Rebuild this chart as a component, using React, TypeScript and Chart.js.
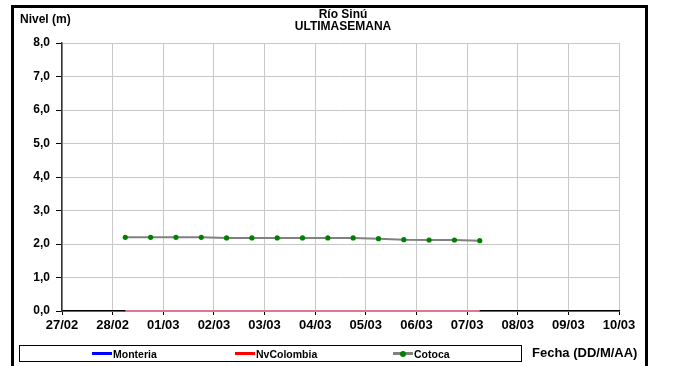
import React, { useEffect, useRef } from "react";
import { Chart, registerables } from "chart.js";

Chart.register(...registerables);

const tickLabels = ["27/02", "28/02", "01/03", "02/03", "03/03", "04/03", "05/03", "06/03", "07/03", "08/03", "09/03", "10/03"];

const pointTimes = [
  "28/02 06:00", "28/02 18:00", "01/03 06:00", "01/03 18:00", "02/03 06:00",
  "02/03 18:00", "03/03 06:00", "03/03 18:00", "04/03 06:00", "04/03 18:00",
  "05/03 06:00", "05/03 18:00", "06/03 06:00", "06/03 18:00", "07/03 06:00",
];

const monteria = [0, 0, 0, 0, 0, 0, 0, 0, 0, 0, 0, 0, 0, 0, 0];
const nvColombia = [0, 0, 0, 0, 0, 0, 0, 0, 0, 0, 0, 0, 0, 0, 0];
const cotoca = [2.2, 2.2, 2.2, 2.2, 2.18, 2.18, 2.18, 2.18, 2.18, 2.18, 2.16, 2.13, 2.12, 2.12, 2.1];

const seriesNames = ["Monteria", "NvColombia", "Cotoca"];

function toDay(s: string): number {
  const [d, t] = s.split(" ");
  const idx = tickLabels.indexOf(d);
  const [h, m] = t.split(":").map(Number);
  return idx + (h + m / 60) / 24;
}

function pts(vals: number[]) {
  return vals.map((v, i) => ({ x: toDay(pointTimes[i]), y: v }));
}

const FONT = "'Liberation Sans', Arial, sans-serif";

export default function App() {
  const ref = useRef<HTMLCanvasElement>(null);
  useEffect(() => {
    const chart = new Chart(ref.current!, {
      type: "line",
      data: {
        datasets: [
          {
            label: seriesNames[0],
            data: pts(monteria),
            borderColor: "#0000ff",
            borderWidth: 2,
            pointRadius: 0,
            order: 2,
            clip: false as any,
          },
          {
            label: seriesNames[1],
            data: pts(nvColombia),
            borderColor: "rgb(220,120,145)",
            borderWidth: 2,
            pointRadius: 0,
            order: 1,
            clip: false as any,
          },
          {
            label: seriesNames[2],
            data: pts(cotoca),
            borderColor: "#808080",
            borderWidth: 2,
            pointRadius: 2.6,
            pointBackgroundColor: "#008000",
            pointBorderColor: "#008000",
            pointBorderWidth: 0,
            order: 0,
          },
        ],
      },
      options: {
        animation: false,
        responsive: false,
        maintainAspectRatio: false,
        layout: { padding: { left: 0, right: 58, top: 43, bottom: 25 } },
        plugins: { legend: { display: false }, tooltip: { enabled: false }, title: { display: false } },
        scales: {
          x: {
            type: "linear",
            min: 0,
            max: tickLabels.length - 1,
            afterFit: (s: any) => { s.height = 30; },
            ticks: {
              stepSize: 1,
              autoSkip: false,
              maxRotation: 0,
              padding: 3,
              color: "#000",
              font: { family: FONT, size: 13, weight: "bold" },
              callback: (v: any) => tickLabels[Math.round(Number(v))] ?? "",
            },
            grid: { color: "#c8c8c8", lineWidth: 1, tickLength: 4, tickColor: "#000" },
            border: { color: "#000", width: 1.5 },
          },
          y: {
            min: 0,
            max: 8,
            afterFit: (s: any) => { s.width = 62; },
            ticks: {
              stepSize: 0.5,
              padding: 6,
              color: "#000",
              font: { family: FONT, size: 12, weight: "bold" },
              callback: (v: any) => (Number(v) % 1 === 0 ? Number(v).toFixed(1).replace(".", ",") : ""),
            },
            grid: {
              color: (c: any) => (c.tick && c.tick.value % 1 === 0 ? "#c8c8c8" : "#dcdcdc"),
              lineWidth: 1,
              tickLength: 6,
              tickColor: (c: any) => (c.tick && c.tick.value % 1 === 0 ? "#000" : "rgba(0,0,0,0)"),
            },
            border: { color: "#333", width: 1.5 },
          },
        },
      },
    });
    return () => chart.destroy();
  }, []);

  const txt: React.CSSProperties = { position: "absolute", fontFamily: FONT, fontWeight: "bold", color: "#000", whiteSpace: "nowrap" };
  const legendItem = (left: number, color: string, label: string, marker: boolean) => (
    <div style={{ position: "absolute", left, top: 0, height: 15, display: "flex", alignItems: "center" }}>
      <div style={{ position: "relative", width: 20, height: 3, background: color }}>
        {marker && (
          <div style={{ position: "absolute", left: 7, top: -1.5, width: 6, height: 6, borderRadius: 3, background: "#008000" }} />
        )}
      </div>
      <span style={{ fontFamily: FONT, fontWeight: "bold", fontSize: 10.5, marginLeft: 1 }}>{label}</span>
    </div>
  );

  return (
    <div style={{ position: "fixed", left: 0, top: 0, width: 677, height: 366, overflow: "hidden", background: "#fff" }}>
      <div style={{ position: "absolute", left: 11, top: 5, width: 637, height: 420, border: "3px solid #000", boxSizing: "border-box" }} />
      <canvas ref={ref} width={677} height={366} style={{ position: "absolute", left: 0, top: 0, width: 677, height: 366 }} />
      <div style={{ ...txt, left: 20, top: 12, fontSize: 12 }}>Nivel (m)</div>
      <div style={{ ...txt, left: 243, width: 200, top: 8, fontSize: 12, textAlign: "center", lineHeight: "12px" }}>
        Río Sinú<br />ULTIMASEMANA
      </div>
      <div style={{ position: "absolute", left: 19, top: 345, width: 503, height: 17, border: "1px solid #000", boxSizing: "border-box" }}>
        {legendItem(72, "#0000ff", seriesNames[0], false)}
        {legendItem(215, "#ff0000", seriesNames[1], false)}
        {legendItem(373, "#808080", seriesNames[2], true)}
      </div>
      <div style={{ ...txt, left: 532, top: 345, fontSize: 13 }}>Fecha (DD/M/AA)</div>
    </div>
  );
}
